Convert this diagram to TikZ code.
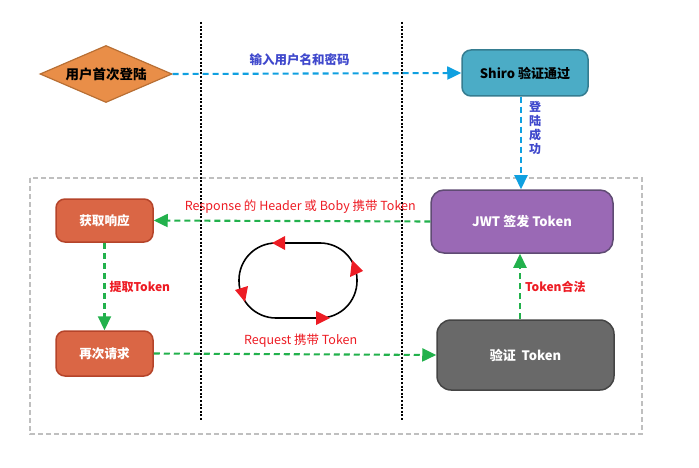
\documentclass[tikz,border=0pt]{standalone}
\usepackage{fontspec}
\setmainfont{Noto Sans CJK SC}
\usetikzlibrary{shapes.geometric,arrows.meta}
\definecolor{dorange}{HTML}{E98E48}
\definecolor{dorangeb}{HTML}{B86F34}
\definecolor{shirof}{HTML}{4BACC6}
\definecolor{shirob}{HTML}{357D91}
\definecolor{jwtf}{HTML}{9A69B5}
\definecolor{jwtb}{HTML}{5F4B73}
\definecolor{redf}{HTML}{DA6645}
\definecolor{redb}{HTML}{B5442A}
\definecolor{grayf}{HTML}{696969}
\definecolor{grayb}{HTML}{454545}
\definecolor{bluearr}{HTML}{0FA0E0}
\definecolor{greenarr}{HTML}{22B14C}
\definecolor{redtxt}{HTML}{ED1C24}
\definecolor{bluetxt}{HTML}{3F48CC}
\definecolor{frame}{HTML}{BFBFBF}
\begin{document}
\begin{tikzpicture}[x=1pt,y=-1pt,
  box/.style={draw,rounded corners=9pt,line width=1.5pt,inner sep=0pt,font=\bfseries\fontsize{12}{14}\selectfont},
  redbox/.style={box,fill=redf,draw=redb,text=white,minimum width=97pt,minimum height=43pt,font=\bfseries\fontsize{12.6}{14}\selectfont},
  bluelink/.style={draw=bluearr,line width=2.1pt,dash pattern=on 6pt off 4pt,-{Triangle[length=14pt,width=13pt]}},
  greenlink/.style={draw=greenarr,line width=2.1pt,dash pattern=on 6pt off 4pt,-{Triangle[length=14pt,width=13pt]}},
  redlabel/.style={text=redtxt,font=\fontsize{12.5}{14}\selectfont,inner sep=0pt},
  boldlabel/.style={font=\bfseries\fontsize{12}{14}\selectfont,inner sep=0pt},
  cyc/.style={fill=redtxt,draw=none}]
\useasboundingbox (0,0) rectangle (699,468);
% frame
\draw[frame,line width=1.5pt,dash pattern=on 5pt off 3pt] (30,178) rectangle (642,434);
% dotted verticals
\coordinate (v1t) at (201,22); \coordinate (v1b) at (201,420);
\coordinate (v2t) at (402,22); \coordinate (v2b) at (402,420);
\draw[line width=2pt,dash pattern=on 2pt off 1.6pt] (v1t) -- (v1b);
\draw[line width=2pt,dash pattern=on 2pt off 1.6pt] (v2t) -- (v2b);
% nodes
\node[diamond,aspect=2.3,draw=dorangeb,fill=dorange,line width=1.2pt,inner sep=0pt,minimum width=132pt,minimum height=57pt,font=\bfseries\fontsize{13.5}{15}\selectfont] (start) at (106,74) {用户首次登陆};
\node[box,fill=shirof,draw=shirob,text=black,minimum width=126pt,minimum height=46pt,font=\bfseries\fontsize{13}{15}\selectfont] (shiro) at (525,73) {Shiro 验证通过};
\node[box,fill=jwtf,draw=jwtb,text=white,minimum width=182pt,minimum height=63pt,rounded corners=13pt,font=\bfseries\fontsize{13}{15}\selectfont] (jwt) at (522,221.5) {JWT 签发 Token};
\node[redbox] (resp) at (104.5,220.5) {获取响应};
\node[redbox,minimum height=45pt] (req) at (104.5,353.5) {再次请求};
\node[box,fill=grayf,draw=grayb,text=white,minimum width=177pt,minimum height=70pt,rounded corners=14pt,font=\bfseries\fontsize{13}{15}\selectfont] (verify) at (525.5,355) {验证~ Token};
\coordinate (vx) at (520,0);
\coordinate (bx) at (521,0);
% connectors
\draw[bluelink] (start.east) -- (shiro.west) node[pos=0.44,above=7pt,text=bluetxt,boldlabel,font=\bfseries\fontsize{12.5}{14}\selectfont] {输入用户名和密码};
\draw[bluelink] (shiro.south -| bx) -- (jwt.north -| bx);
\node[text=bluetxt,boldlabel,align=center] (lbl1) at (535,128) {登\\陆\\成\\功};
\draw[greenlink] (jwt.west) -- (resp.east) node[pos=0.47,above=7pt,redlabel] {Response 的 Header 或 Boby 携带 Token};
\draw[greenlink] (resp.south) -- (req.north) node[midway,right=4pt,redlabel,font=\bfseries\fontsize{12}{14}\selectfont] {提取Token};
\draw[greenlink] (req.east) -- (verify.west) node[pos=0.52,above=6pt,redlabel] {Request 携带 Token};
\draw[greenlink] (verify.north -| vx) -- (jwt.south -| vx) node[midway,right=4pt,redlabel,font=\bfseries\fontsize{12}{14}\selectfont] {Token合法};
% cycle
\draw[line width=1.6pt,rounded corners=37pt] (239,243) rectangle (357,318);
\fill[cyc] (272,243) -- (285,236) -- (285,250) -- cycle;
\fill[cyc] (363,271) -- (352,260) -- (350,277) -- cycle;
\fill[cyc] (245,302) -- (235,290) -- (248,286) -- cycle;
\fill[cyc] (330,318) -- (316,311) -- (316,325) -- cycle;
\end{tikzpicture}
\end{document}
